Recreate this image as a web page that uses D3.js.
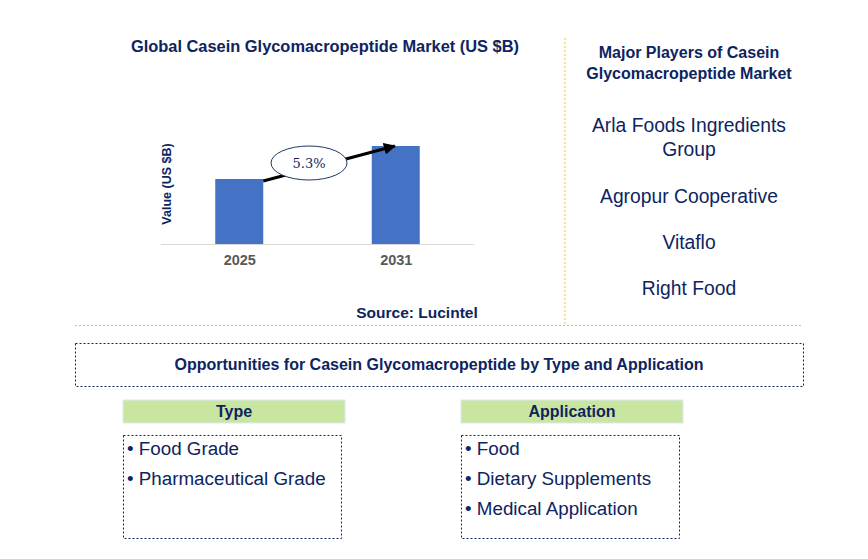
<!DOCTYPE html><html><head><meta charset="utf-8"><script src="https://cdn.jsdelivr.net/npm/d3@7"></script>
<style>body{margin:0;background:#fff}text{font-family:Arial,"Liberation Sans",sans-serif}</style></head><body>
<svg id="c" width="868" height="559"></svg>
<script>
const years=["2025","2031"];
const values=[65,98];
const cagr="5.3%";
const players=[["Arla Foods Ingredients","Group"],["Agropur Cooperative"],["Vitaflo"],["Right Food"]];
const types=["Food Grade","Pharmaceutical Grade"];
const apps=["Food","Dietary Supplements","Medical Application"];
const navy="#0d2461",gold="#f5c518";
const svg=d3.select("#c");
const x=d3.scalePoint().domain(years).range([161,474]).padding(0.5);
const y=d3.scaleLinear().domain([0,120]).range([244,124]);
svg.append("text").attr("x",325).attr("y",52).attr("text-anchor","middle").attr("font-size",16.4).attr("font-weight","bold").attr("fill",navy).text("Global Casein Glycomacropeptide Market (US $B)");
svg.selectAll(".b").data(values).join("rect").attr("x",(d,i)=>x(years[i])-24).attr("width",48).attr("y",d=>y(d)).attr("height",d=>y(0)-y(d)).attr("fill","#4472c4");
svg.append("line").attr("x1",161).attr("x2",474).attr("y1",244.5).attr("y2",244.5).attr("stroke","#d9d9d9");
const ax=svg.append("g").attr("transform","translate(0,244)").call(d3.axisBottom(x).tickSize(0).tickPadding(11));
ax.select(".domain").remove();
ax.selectAll("text").attr("font-size",14.5).attr("font-weight","bold").attr("fill","#595959").style("font-family","Arial");
svg.append("text").attr("transform","translate(171,184) rotate(-90)").attr("text-anchor","middle").attr("font-size",12.5).attr("font-weight","bold").attr("fill",navy).text("Value (US $B)");
svg.append("defs").append("marker").attr("id","ar").attr("viewBox","0 0 10 10").attr("refX",9).attr("refY",5).attr("markerWidth",4).attr("markerHeight",4).attr("orient","auto").append("path").attr("d","M0,0L10,5L0,10z").attr("fill","#000");
svg.append("line").attr("x1",x(years[0])+24).attr("y1",y(values[0])+2).attr("x2",x(years[1])-1).attr("y2",y(values[1])).attr("stroke","#000").attr("stroke-width",3).attr("marker-end","url(#ar)");
svg.append("ellipse").attr("cx",309).attr("cy",163).attr("rx",38).attr("ry",17).attr("fill","#fff").attr("stroke","#1f3864");
svg.append("text").attr("x",309).attr("y",168).attr("text-anchor","middle").attr("font-size",13).attr("fill",navy).style("font-family","'DejaVu Serif',serif").text(cagr);
svg.append("text").attr("x",417).attr("y",318).attr("text-anchor","middle").attr("font-size",15.5).attr("font-weight","bold").attr("fill",navy).text("Source: Lucintel");
svg.append("line").attr("x1",565).attr("x2",565).attr("y1",38).attr("y2",325).attr("stroke",gold).attr("stroke-dasharray","2,2");
svg.append("line").attr("x1",75).attr("x2",803).attr("y1",325.5).attr("y2",325.5).attr("stroke",gold).attr("stroke-dasharray","2,2");
svg.append("text").attr("x",689).attr("y",58).attr("text-anchor","middle").attr("font-size",16).attr("font-weight","bold").attr("fill",navy).text("Major Players of Casein");
svg.append("text").attr("x",689).attr("y",79).attr("text-anchor","middle").attr("font-size",16).attr("font-weight","bold").attr("fill",navy).text("Glycomacropeptide Market");
const py=[[132,156],[203],[249],[295]];
players.forEach((p,i)=>p.forEach((l,j)=>svg.append("text").attr("x",689).attr("y",py[i][j]).attr("text-anchor","middle").attr("font-size",19.3).attr("fill",navy).text(l)));
svg.append("rect").attr("x",75.5).attr("y",343.5).attr("width",728).attr("height",43).attr("fill","none").attr("stroke",navy).attr("stroke-dasharray","2,2");
svg.append("text").attr("x",439).attr("y",370).attr("text-anchor","middle").attr("font-size",16).attr("font-weight","bold").attr("fill",navy).text("Opportunities for Casein Glycomacropeptide by Type and Application");
[[123,"Type",types],[461,"Application",apps]].forEach(([x0,h,items])=>{
 svg.append("rect").attr("x",x0).attr("y",400).attr("width",222).attr("height",23).attr("fill","#c9e6a0").attr("stroke","#dbe8f5");
 svg.append("text").attr("x",x0+111).attr("y",417).attr("text-anchor","middle").attr("font-size",16).attr("font-weight","bold").attr("fill",navy).text(h);
 svg.append("rect").attr("x",x0+0.5).attr("y",435.5).attr("width",218).attr("height",103).attr("fill","none").attr("stroke",navy).attr("stroke-dasharray","2,2");
 items.forEach((t,i)=>svg.append("text").attr("x",x0+4).attr("y",455+i*30).attr("font-size",18.8).attr("fill",navy).text("\u2022 "+t));
});
</script></body></html>
